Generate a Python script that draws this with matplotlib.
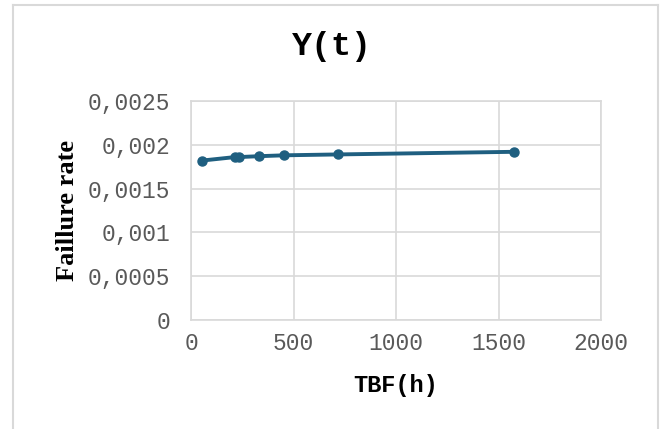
import numpy as np
import matplotlib.pyplot as plt
from matplotlib.ticker import FuncFormatter

# TBF values (hours) and estimated failure rate
tbf = [54, 215, 234, 332, 454, 717, 1576]
rate = [0.00182, 0.00186, 0.00186, 0.00187, 0.00188, 0.00189, 0.00192]

xticks = [0, 500, 1000, 1500, 2000]
yticks = [0, 0.0005, 0.001, 0.0015, 0.002, 0.0025]

line_col = '#1f5f80'
grid_col = '#d9d9d9'
mono = 'Liberation Mono'

W, H = 662, 429
fig = plt.figure(figsize=(W / 100, H / 100), dpi=100)
ax = fig.add_axes([191/W, 1 - 320/H, 410/W, 219/H])

# outer chart frame (open at the bottom)
fig.add_artist(plt.Line2D([13/W, 13/W], [0, 1 - 5/H], color=grid_col, lw=1.5))
fig.add_artist(plt.Line2D([13/W, 658/W], [1 - 5/H, 1 - 5/H], color=grid_col, lw=1.5))
fig.add_artist(plt.Line2D([658/W, 658/W], [0, 1 - 5/H], color=grid_col, lw=1.5))

ax.plot(tbf, rate, color=line_col, lw=2.8, marker='o', ms=6.5, zorder=3)

ax.set_xlim(0, 2000)
ax.set_ylim(0, 0.0025)
ax.set_xticks(xticks)
ax.set_yticks(yticks)

def comma_fmt(v, pos):
    if v == 0:
        return '0'
    s = ('%.4f' % v).rstrip('0')
    return s.replace('.', ',')

ax.yaxis.set_major_formatter(FuncFormatter(comma_fmt))
ax.xaxis.set_major_formatter(FuncFormatter(lambda v, p: '%d' % v))

ax.grid(True, color=grid_col, lw=1.2)
ax.set_axisbelow(True)
for sp in ax.spines.values():
    sp.set_color(grid_col)
    sp.set_linewidth(1.2)
ax.tick_params(length=0, labelsize=16.5, labelcolor='#595959')
ax.tick_params(axis='y', pad=15)
ax.tick_params(axis='x', pad=9)
for lab in ax.get_xticklabels() + ax.get_yticklabels():
    lab.set_family(mono)

fig.text(332/W, 1 - 47/H, 'Y(t)', family=mono, fontsize=24, fontweight='bold',
         ha='center', va='center')
ax.set_xlabel('TBF(h)', family=mono, fontsize=17, fontweight='bold', labelpad=13)
ax.set_ylabel('Faillure rate', family='Liberation Serif', fontsize=19,
              fontweight='bold', labelpad=6)

fig.savefig('out.png', dpi=100)
